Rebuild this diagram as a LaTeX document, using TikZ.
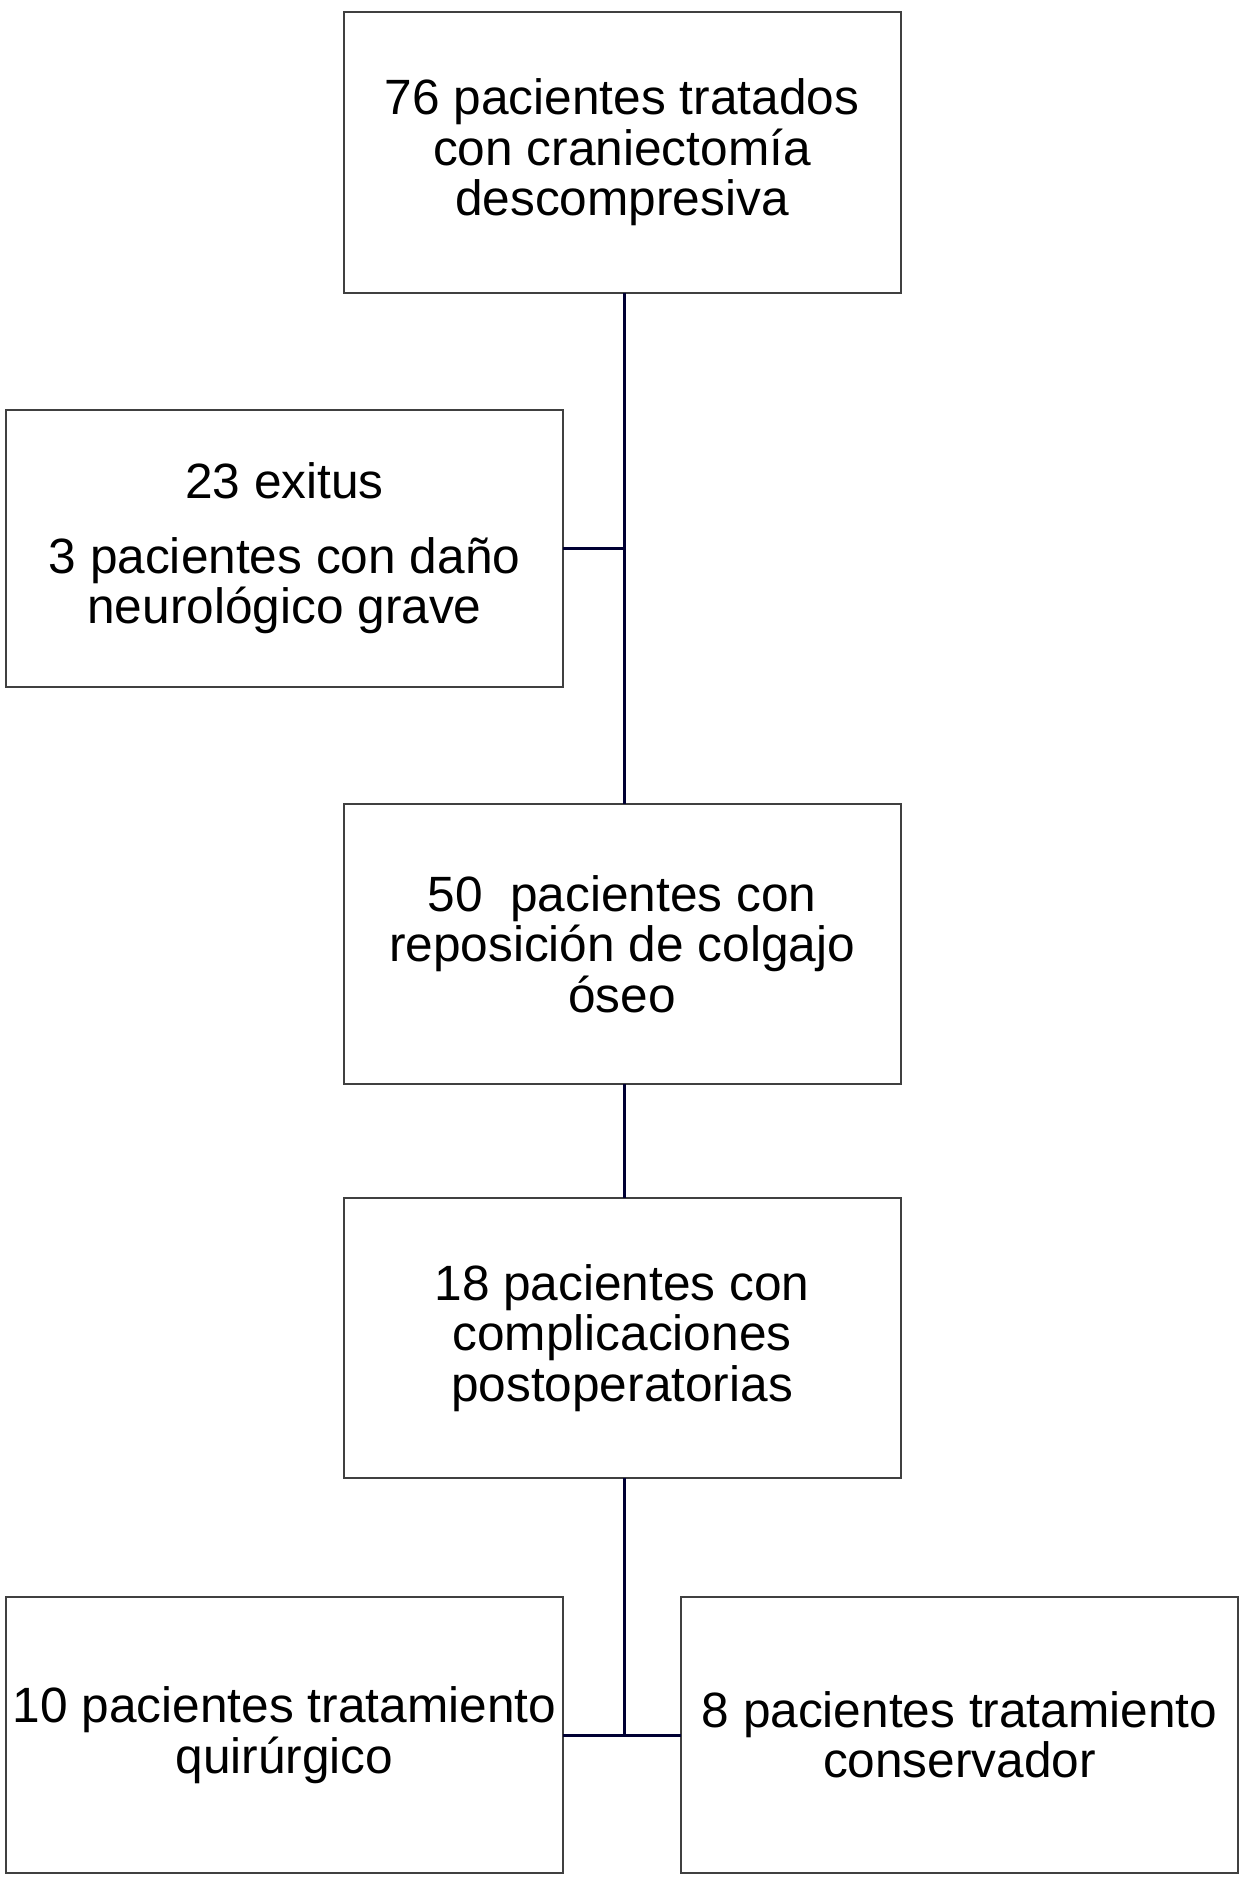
\documentclass[tikz,border=0pt]{standalone}
\usepackage{fontspec}
\setmainfont{Liberation Sans}
\begin{document}
\begin{tikzpicture}[x=0.5pt,y=-0.5pt,
  box/.style={draw=black!75,line width=1pt,minimum width=278.5pt,inner sep=0pt,outer sep=0pt,align=center,font=\fontsize{24.8}{25.2}\selectfont},
  conn/.style={draw=black!80!blue,line width=1.5pt}]
\useasboundingbox (0,0) rectangle (1258,1883);
\fill[white] (0,0) rectangle (1258,1883);
\node[box,minimum height=140.5pt] (b1) at (622,152.5) {76 pacientes tratados\\con craniectomía\\descompresiva};
\node[box,minimum height=138.5pt] (b2) at (284.5,548.5) {23 exitus\\[12pt]3 pacientes con daño\\neurológico grave};
\node[box,minimum height=140pt] (b3) at (622,944) {50\ \ pacientes con\\reposición de colgajo\\óseo};
\node[box,minimum height=140pt] (b4) at (622,1338) {18 pacientes con\\complicaciones\\postoperatorias};
\node[box,minimum height=138pt] (b5) at (284.5,1735) {10 pacientes tratamiento\\quirúrgico};
\node[box,minimum height=138pt] (b6) at (959.5,1735) {8 pacientes tratamiento\\conservador};
\coordinate (cx) at (624,0);
\coordinate (j1) at (cx |- b2.east);
\coordinate (j2) at (cx |- b5.east);
\draw[conn] (b1.south -| cx) -- (b3.north -| cx);
\draw[conn] (b2.east) -- (j1);
\draw[conn] (b3.south -| cx) -- (b4.north -| cx);
\draw[conn] (b4.south -| cx) -- (j2);
\draw[conn] (b5.east) -- (b6.west);
\end{tikzpicture}
\end{document}
